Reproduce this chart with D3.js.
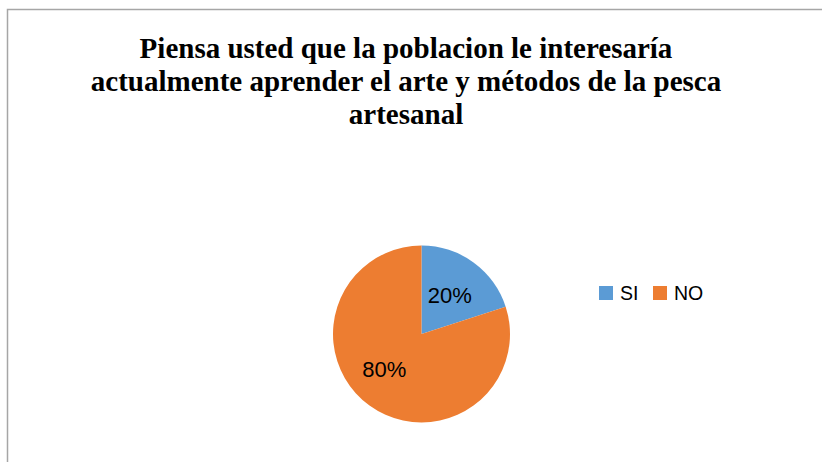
<!DOCTYPE html>
<html><head><meta charset="utf-8">
<script src="https://cdn.jsdelivr.net/npm/d3@7"></script>
<style>html,body{margin:0;padding:0;background:#fff;overflow:hidden}</style>
</head><body>
<script>
const categories = ["SI", "NO"];
const values = [20, 80];
const colors = ["#5B9BD5", "#ED7D31"];
const titleLines = ["Piensa usted que la poblacion le interesaría", "actualmente aprender el arte y métodos de la pesca", "artesanal"];

const W = 822, H = 462;
const svg = d3.select("body").append("svg").attr("width", W).attr("height", H);

// frame
svg.append("path").attr("d", `M7.5,${H} L7.5,9.5 L${W+2},9.5`)
  .attr("fill","none").attr("stroke","#a6a6a6").attr("stroke-width",1.5);

// title
const title = svg.append("text")
  .style("font-family",'"Liberation Serif"').style("font-weight","bold").style("font-size","29px")
  .attr("text-anchor","middle").attr("fill","#000");
titleLines.forEach((t,i)=>{
  title.append("tspan").attr("x",406).attr("y",58 + i*33).text(t);
});

// pie
const cx = 421.5, cy = 334, R = 88.5;
const pie = d3.pie().sort(null).value(d=>d)(values);
const arc = d3.arc().innerRadius(0).outerRadius(R);
const g = svg.append("g").attr("transform",`translate(${cx},${cy})`);
g.selectAll("path").data(pie).join("path")
  .attr("d",arc).attr("fill",(d,i)=>colors[i]);

const total = d3.sum(values);
g.selectAll("text").data(pie).join("text")
  .style("font-family",'"Liberation Sans"').style("font-size","22px")
  .attr("transform",(d,i)=>{
    const shift = i===1 ? 0.19 : 0;
    const a = (d.startAngle + d.endAngle)/2 + shift;
    const r = i===1 ? 51 : 48;
    return `translate(${r*Math.sin(a)},${-r*Math.cos(a)})`;
  })
  .attr("text-anchor","middle").attr("dy","0.36em").attr("fill","#000")
  .text(d=>Math.round(d.value/total*100)+"%");

// legend
const leg = svg.append("g");
const legX = [599, 653];
categories.forEach((c,i)=>{
  leg.append("rect").attr("x",legX[i]).attr("y",286).attr("width",14).attr("height",14).attr("fill",colors[i]);
  leg.append("text").attr("x",legX[i]+21).attr("y",300)
    .style("font-family",'"Liberation Sans"').style("font-size","19.5px").attr("fill","#000").text(c);
});
</script>
</body></html>
